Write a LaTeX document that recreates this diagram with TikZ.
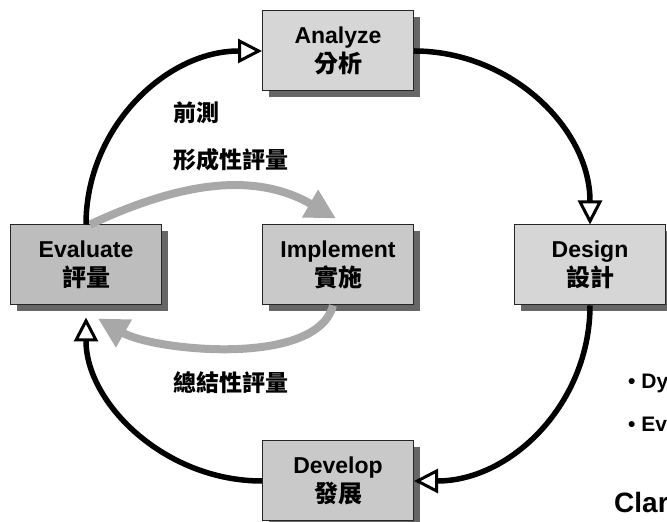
\documentclass[tikz,border=0pt]{standalone}
\usepackage{fontspec}
\setmainfont{Liberation Sans}
\newfontfamily\cjk{Noto Sans CJK TC}
\usetikzlibrary{arrows.meta}
\usetikzlibrary{positioning}
\usetikzlibrary{shadows}

\begin{document}
\begin{tikzpicture}[x=1pt,y=1pt,node distance=133pt and 100pt,
		box/.style={draw=black!85,line width=1pt,minimum width=151pt,minimum height=80pt,inner sep=0pt,align=center,
			font=\bfseries\fontsize{23}{29}\selectfont,
			drop shadow={shadow xshift=6pt,shadow yshift=-6pt,fill=black!60,opacity=1}},
		loopline/.style={line width=5.5pt,-{Triangle[length=24pt,width=24pt,fill=white,line width=3pt]}},
		evalline/.style={line width=8pt,draw=gray!68,-{Triangle[length=30pt,width=30pt,fill=gray!68]}},
		note/.style={anchor=west,inner sep=0pt,font=\cjk\bfseries\fontsize{23}{23}\selectfont},
		side/.style={anchor=west,inner sep=0pt,font=\bfseries\fontsize{21}{21}\selectfont}]
		\clip (0,0) rectangle (667,522);
		\node[box,fill=gray!42] (implement) at (338,257) {Implement\\\cjk\fontsize{24}{29}\selectfont 實施};
		\node[box,fill=gray!32,above=of implement] (analyze) {Analyze\\\cjk\fontsize{24}{29}\selectfont 分析};
		\node[box,fill=gray!42,below=135pt of implement] (develop) {Develop\\\cjk\fontsize{24}{29}\selectfont 發展};
		\node[box,fill=gray!52,left=of implement] (evaluate) {Evaluate\\\cjk\fontsize{24}{29}\selectfont 評量};
		\node[box,fill=gray!32,right=of implement] (design) {Design\\\cjk\fontsize{24}{29}\selectfont 設計};
		
		\draw[evalline] ([xshift=4pt]evaluate.north) to[out=25,in=150] ([xshift=-2pt,yshift=6pt]implement.north);
		\draw[evalline] ([xshift=-5pt]implement.south) to[out=-105,in=-30,looseness=0.7] ([xshift=12pt,yshift=-13pt]evaluate.south);
		
		\draw[loopline] (evaluate.north) to[out=90,in=180] (analyze.west);
		\draw[loopline] (analyze.east) to[out=0,in=90] (design.north);
		\draw[loopline] (design.south) to[out=-90,in=0] (develop.east);
		\draw[loopline,shorten >=12pt] (develop.west) to[out=180,in=-90] (evaluate.south);
		
		\node[note] (pretest) at (173,409) {前測};
		\node[note] (formative) at (173,362) {形成性評量};
		\node[note] (summative) at (173,139) {總結性評量};
		
		\node[side] (dy) at (628,139) {• Dy};
		\node[side] (ev) at (628,98) {• Ev};
		\node[side,font=\bfseries\fontsize{28}{28}\selectfont] (clar) at (614,20) {Clar};
		
\end{tikzpicture}
\end{document}
